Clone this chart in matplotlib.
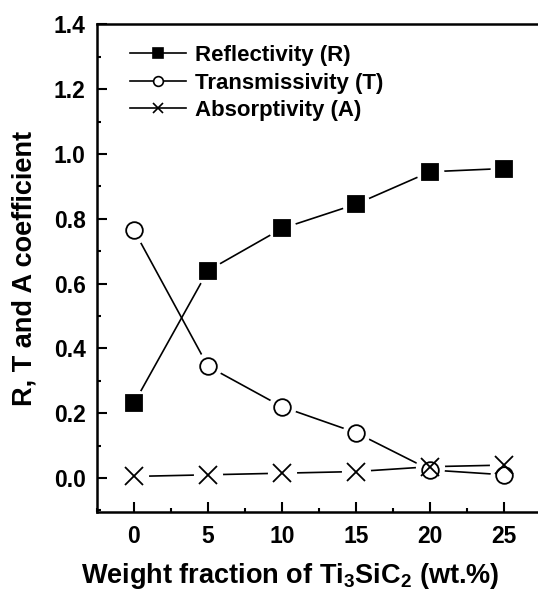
import numpy as np
import matplotlib
matplotlib.use('Agg')
import matplotlib.pyplot as plt
from matplotlib.ticker import MultipleLocator

plt.rcParams['font.family'] = 'Liberation Sans'
plt.rcParams['font.weight'] = 'bold'
plt.rcParams['mathtext.fontset'] = 'custom'
plt.rcParams['mathtext.rm'] = 'Liberation Sans:bold'
plt.rcParams['mathtext.bf'] = 'Liberation Sans:bold'

wt = [0, 5, 10, 15, 20, 25]
refl = [0.23, 0.64, 0.77, 0.845, 0.945, 0.955]
trans = [0.765, 0.345, 0.22, 0.14, 0.025, 0.01]
absorp = [0.005, 0.01, 0.015, 0.02, 0.035, 0.04]

fig = plt.figure(figsize=(5.38, 5.92), dpi=100)
ax = fig.add_axes([0.180, 0.135, 0.826, 0.824])

def series(y, marker, face, ms, label):
    ax.plot(wt, y, '-', color='black', lw=1.2, zorder=2)
    # white halo so the line stops short of each marker
    ax.plot(wt, y, ls='none', marker='o', ms=ms + 7, mfc='white', mec='white', zorder=3)
    ax.plot(wt, y, ls='none', marker=marker, ms=ms, mfc=face, mec='black', mew=1.3, zorder=4)
    ax.plot([], [], '-', color='black', lw=1.2, marker=marker, ms=7, mfc=face,
            mec='black', mew=1.2, label=label)

series(refl, 's', 'black', 12, 'Reflectivity (R)')
series(trans, 'o', 'white', 12, 'Transmissivity (T)')
series(absorp, 'x', 'black', 13, 'Absorptivity (A)')

ax.set_xlim(-2.5, 27.5)
ax.set_ylim(-0.105, 1.4)
ax.xaxis.set_major_locator(MultipleLocator(5))
ax.xaxis.set_minor_locator(MultipleLocator(2.5))
ax.yaxis.set_major_locator(MultipleLocator(0.2))
ax.yaxis.set_minor_locator(MultipleLocator(0.1))
ax.tick_params(which='both', direction='in', top=False, right=False, width=1.5)
ax.tick_params(which='major', length=7, labelsize=16.5)
ax.tick_params(axis='x', which='major', pad=9)
ax.tick_params(axis='y', which='major', pad=8)
ax.tick_params(which='minor', length=3)
for s in ax.spines.values():
    s.set_linewidth(1.8)
ax.yaxis.set_major_formatter(plt.FuncFormatter(lambda v, p: '%.1f' % v))

ax.set_xlabel(r'Weight fraction of Ti$_3$SiC$_2$ (wt.%)', fontsize=19.5, fontweight='bold')
ax.xaxis.set_label_coords(0.435, -0.1)
ax.set_ylabel('R, T and A coefficient', fontsize=19.5, fontweight='bold', labelpad=12)

ax.legend(loc='upper left', bbox_to_anchor=(0.045, 0.985), frameon=False, fontsize=16,
          handlelength=2.5, handletextpad=0.4, labelspacing=0.3, borderaxespad=0.2)

fig.savefig('out.png', dpi=100)
